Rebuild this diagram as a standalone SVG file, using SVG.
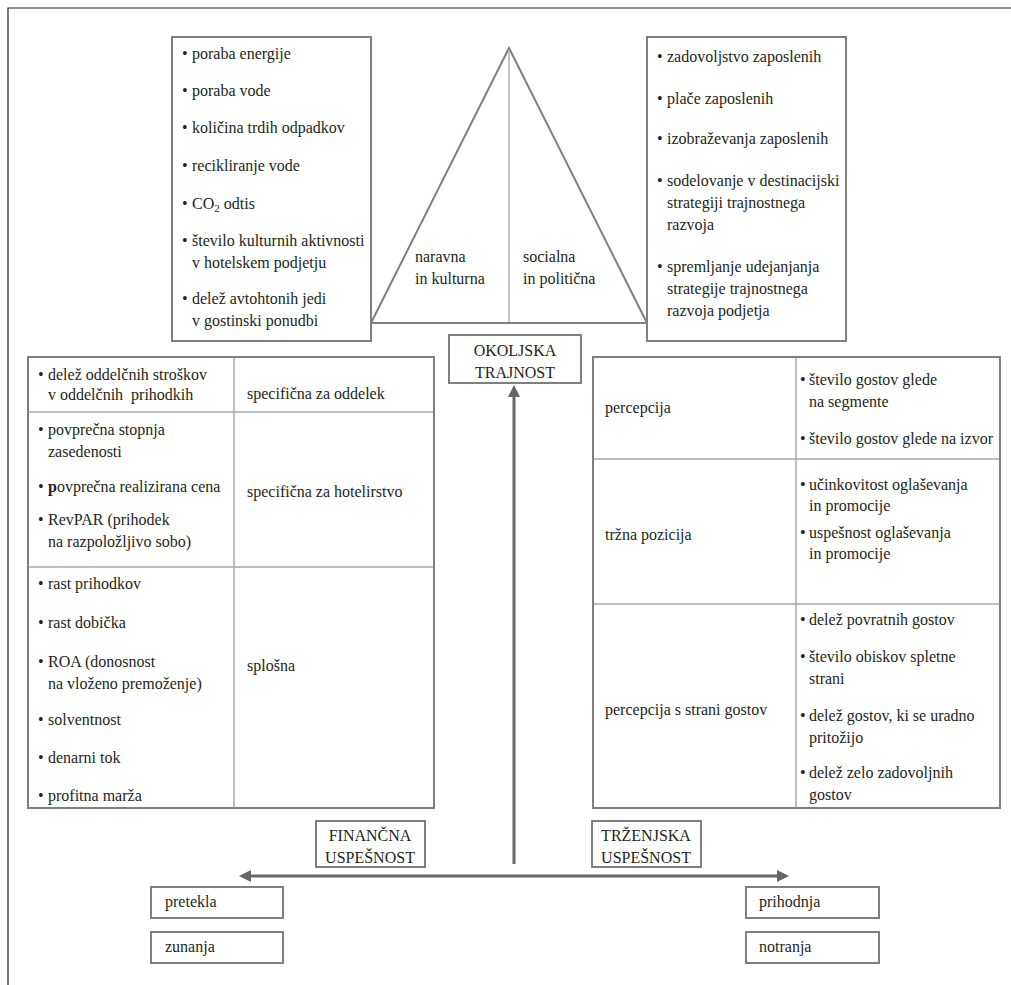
<svg xmlns="http://www.w3.org/2000/svg" width="1011" height="985" viewBox="0 0 1011 985">
<defs>
<style>
text{font-family:"Liberation Serif","Times New Roman",serif;font-size:16px;fill:#231f20}
.box{fill:#fff;stroke:#7f7f7f;stroke-width:2}
.inner{stroke:#a8a8a8;stroke-width:1.5;fill:none}
.conn{stroke:#666;stroke-width:3;fill:none}
.sub{font-size:11px}
.mid{text-anchor:middle}
</style>
<marker id="ah" viewBox="0 0 12 12" refX="0" refY="6" markerWidth="12" markerHeight="12" orient="auto-start-reverse" markerUnits="userSpaceOnUse">
<path d="M0,0 L12,6 L0,12 Z" fill="#666"/>
</marker>
</defs>
<rect width="1011" height="985" fill="#fff"/>
<path d="M8,985 V8 H1011" fill="none" stroke="#222" stroke-width="1.2"/>

<g id="triangle">
<path d="M371,323 L509,48 L647,323 Z" fill="#fff" stroke="#7f7f7f" stroke-width="2"/>
<line x1="509" y1="50" x2="509" y2="322" stroke="#b3b3b3" stroke-width="1.5"/>
<text x="415" y="262">naravna</text>
<text x="415" y="284">in kulturna</text>
<text x="523" y="262">socialna</text>
<text x="523" y="284">in politična</text>
</g>

<g id="env-box">
<rect class="box" x="172" y="37" width="199" height="304"/>
<text x="182" y="59">•<tspan x="192">poraba energije</tspan></text>
<text x="182" y="96">•<tspan x="192">poraba vode</tspan></text>
<text x="182" y="133">•<tspan x="192">količina trdih odpadkov</tspan></text>
<text x="182" y="171">•<tspan x="192">recikliranje vode</tspan></text>
<text x="182" y="209">•<tspan x="192">CO</tspan><tspan class="sub" dy="3">2</tspan><tspan dy="-3"> odtis</tspan></text>
<text x="182" y="246">•<tspan x="192">število kulturnih aktivnosti</tspan></text>
<text x="192" y="268">v hotelskem podjetju</text>
<text x="182" y="304">•<tspan x="192">delež avtohtonih jedi</tspan></text>
<text x="192" y="326">v gostinski ponudbi</text>
</g>

<g id="soc-box">
<rect class="box" x="647" y="37" width="199" height="304"/>
<text x="657" y="62">•<tspan x="667">zadovoljstvo zaposlenih</tspan></text>
<text x="657" y="104">•<tspan x="667">plače zaposlenih</tspan></text>
<text x="657" y="144">•<tspan x="667">izobraževanja zaposlenih</tspan></text>
<text x="657" y="186">•<tspan x="667">sodelovanje v destinacijski</tspan></text>
<text x="667" y="208">strategiji trajnostnega</text>
<text x="667" y="230">razvoja</text>
<text x="657" y="272">•<tspan x="667">spremljanje udejanjanja</tspan></text>
<text x="667" y="294">strategije trajnostnega</text>
<text x="667" y="316">razvoja podjetja</text>
</g>

<g id="okoljska">
<rect class="box" x="449" y="335" width="132" height="48"/>
<text class="mid" x="515" y="356">OKOLJSKA</text>
<text class="mid" x="515" y="378">TRAJNOST</text>
</g>

<g id="fin-table">
<rect class="box" x="28" y="357" width="406" height="451"/>
<line class="inner" x1="234" y1="358" x2="234" y2="807"/>
<line class="inner" x1="29" y1="412" x2="433" y2="412"/>
<line class="inner" x1="29" y1="567" x2="433" y2="567"/>
<text x="38" y="380">•<tspan x="48">delež oddelčnih stroškov</tspan></text>
<text x="48" y="400" xml:space="preserve">v oddelčnih  prihodkih</text>
<text x="38" y="435">•<tspan x="48">povprečna stopnja</tspan></text>
<text x="48" y="457">zasedenosti</text>
<text x="38" y="492">•<tspan x="48" font-weight="bold">p</tspan>ovprečna realizirana cena</text>
<text x="38" y="525">•<tspan x="48">RevPAR (prihodek</tspan></text>
<text x="48" y="547">na razpoložljivo sobo)</text>
<text x="38" y="589">•<tspan x="48">rast prihodkov</tspan></text>
<text x="38" y="628">•<tspan x="48">rast dobička</tspan></text>
<text x="38" y="667">•<tspan x="48">ROA (donosnost</tspan></text>
<text x="48" y="689">na vloženo premoženje)</text>
<text x="38" y="725">•<tspan x="48">solventnost</tspan></text>
<text x="38" y="763">•<tspan x="48">denarni tok</tspan></text>
<text x="38" y="801">•<tspan x="48">profitna marža</tspan></text>
<text x="247" y="399">specifična za oddelek</text>
<text x="247" y="497">specifična za hotelirstvo</text>
<text x="247" y="671">splošna</text>
</g>

<g id="mkt-table">
<rect class="box" x="593" y="357" width="407" height="451"/>
<line class="inner" x1="796" y1="358" x2="796" y2="807"/>
<line class="inner" x1="594" y1="459" x2="999" y2="459"/>
<line class="inner" x1="594" y1="604" x2="999" y2="604"/>
<text x="605" y="413">percepcija</text>
<text x="605" y="540">tržna pozicija</text>
<text x="605" y="715">percepcija s strani gostov</text>
<text x="800" y="385">•<tspan x="809">število gostov glede</tspan></text>
<text x="809" y="407">na segmente</text>
<text x="800" y="444">•<tspan x="809">število gostov glede na izvor</tspan></text>
<text x="800" y="490">•<tspan x="809">učinkovitost oglaševanja</tspan></text>
<text x="809" y="511">in promocije</text>
<text x="800" y="538">•<tspan x="809">uspešnost oglaševanja</tspan></text>
<text x="809" y="559">in promocije</text>
<text x="800" y="625">•<tspan x="809">delež povratnih gostov</tspan></text>
<text x="800" y="662">•<tspan x="809">število obiskov spletne</tspan></text>
<text x="809" y="684">strani</text>
<text x="800" y="721">•<tspan x="809">delež gostov, ki se uradno</tspan></text>
<text x="809" y="743">pritožijo</text>
<text x="800" y="778">•<tspan x="809">delež zelo zadovoljnih</tspan></text>
<text x="809" y="800">gostov</text>
</g>

<g id="financna">
<rect class="box" x="316" y="821" width="109" height="46"/>
<text class="mid" x="370" y="841">FINANČNA</text>
<text class="mid" x="370" y="863">USPEŠNOST</text>
</g>
<g id="trzenjska">
<rect class="box" x="592" y="821" width="109" height="46"/>
<text class="mid" x="646" y="841">TRŽENJSKA</text>
<text class="mid" x="646" y="863">USPEŠNOST</text>
</g>

<g id="pretekla"><rect class="box" x="151" y="887" width="132" height="31"/><text x="165" y="907">pretekla</text></g>
<g id="zunanja"><rect class="box" x="151" y="932" width="132" height="31"/><text x="165" y="952">zunanja</text></g>
<g id="prihodnja"><rect class="box" x="746" y="887" width="133" height="31"/><text x="759" y="907">prihodnja</text></g>
<g id="notranja"><rect class="box" x="746" y="932" width="133" height="31"/><text x="759" y="952">notranja</text></g>

<g id="connectors">
<line class="conn" x1="514" y1="864" x2="514" y2="397" marker-end="url(#ah)"/>
<line class="conn" x1="251" y1="876" x2="777" y2="876" marker-start="url(#ah)" marker-end="url(#ah)"/>
</g>
</svg>
